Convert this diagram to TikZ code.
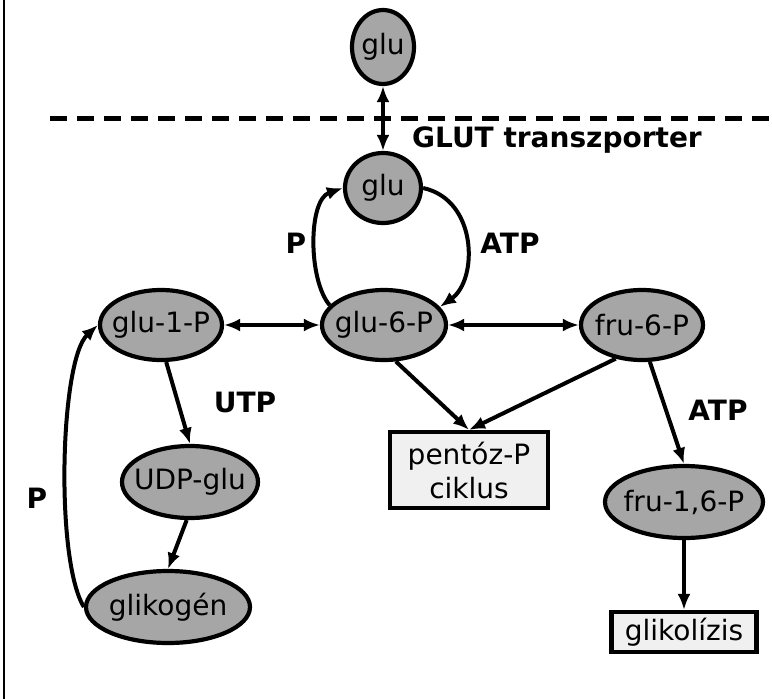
\documentclass[tikz,border=0pt]{standalone}
\usepackage{fontspec}
\setmainfont{DejaVu Sans}
\usetikzlibrary{shapes.geometric,arrows.meta}
\definecolor{ellfill}{HTML}{A6A6A6}
\definecolor{boxfill}{HTML}{F0F0F0}
\tikzset{
  met/.style={ellipse,draw,line width=4.2pt,fill=ellfill,inner xsep=-30pt,inner ysep=-10pt,font=\fontsize{28}{33}\selectfont},
  pbox/.style={rectangle,draw,line width=4.2pt,fill=boxfill,inner sep=0pt,align=center,font=\fontsize{28}{34}\selectfont},
  lbl/.style={font=\fontsize{28}{33}\selectfont\bfseries},
  arr/.style={line width=4pt,-{Latex[length=16pt,width=13pt]}},
  darr/.style={line width=4pt,{Latex[length=16pt,width=13pt]}-{Latex[length=16pt,width=13pt]}}
}
\begin{document}
\begin{tikzpicture}[x=1pt,y=-1pt]
\useasboundingbox (0,0) rectangle (772,699);
\draw[line width=2.6pt] (4,0) -- (4,699);
\draw[line width=5pt,dash pattern=on 17pt off 10pt] (50,118) -- (772,118);

\node[met,minimum width=62pt,minimum height=74pt] (gluo) at (383,47) {glu};
\node[met,minimum width=76pt,minimum height=70pt] (glu) at (383,188) {glu};
\node[met,minimum width=124pt,minimum height=70pt] (g6p) at (384,325) {glu-6-P};
\node[met,minimum width=122pt,minimum height=70pt] (g1p) at (161,325) {glu-1-P};
\node[met,minimum width=122pt,minimum height=70pt] (f6p) at (642,325) {fru-6-P};
\node[met,minimum width=136pt,minimum height=72pt] (udp) at (190,482) {UDP-glu};
\node[met,minimum width=164pt,minimum height=72pt] (gly) at (168,607) {glikogén};
\node[met,minimum width=158pt,minimum height=72pt] (f16) at (684,502) {fru-1,6-P};
\node[pbox,minimum width=158pt,minimum height=76pt] (ppp) at (469,470) {pentóz-P\\ciklus};
\node[pbox,minimum width=145pt,minimum height=40pt] (glyc) at (684,632) {glikolízis};

\node[lbl] (glut) at (557,140) {GLUT transzporter};
\node[lbl] (p1) at (296,243) {P};
\node[lbl] (atp1) at (510,243) {ATP};
\node[lbl] (utp) at (245,402) {UTP};
\node[lbl] (p2) at (37,498) {P};
\node[lbl] (atp2) at (718,410) {ATP};

\draw[darr] (gluo) -- (glu);
\draw[darr] (g1p) -- (g6p);
\draw[darr] (g6p) -- (f6p);
\draw[arr] (g6p.-72) -- (ppp.north);
\draw[arr] (f6p.-128) -- (ppp.north);
\draw[arr] (f6p.-78) -- (f16.north);
\draw[arr] (f16) -- (glyc);
\draw[arr] (g1p.-82) -- (udp.north);
\draw[arr] (udp.-95) -- (gly.north);
\draw[arr] (gly.west) .. controls (55,560) and (60,360) .. (g1p.west);
\draw[arr] (g6p.160) .. controls (308,280) and (308,200) .. (glu.west);
\draw[arr] (glu.east) .. controls (478,200) and (478,280) .. (g6p.18);
\end{tikzpicture}
\end{document}
